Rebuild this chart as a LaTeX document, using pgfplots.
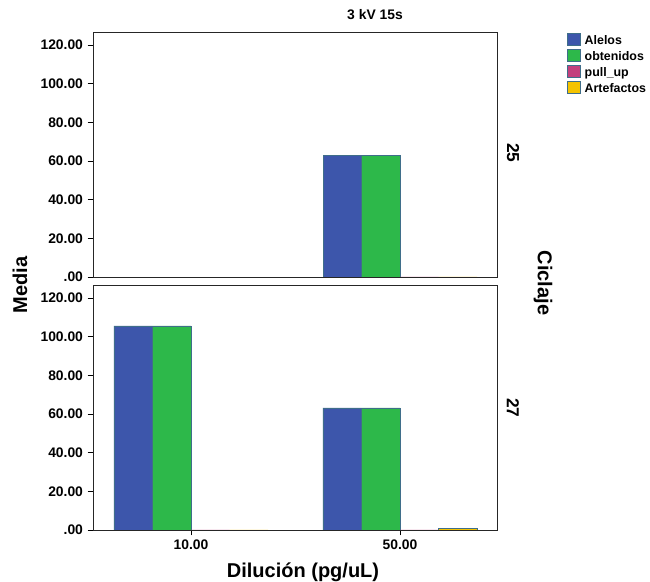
\documentclass[border=0pt]{standalone}
\usepackage{pgfplots}
\pgfplotsset{compat=1.18}
\usepackage{fontspec}
\setmainfont{Liberation Sans}
\definecolor{cblue}{HTML}{3D56AB}
\definecolor{cgreen}{HTML}{2DB84A}
\definecolor{cpink}{HTML}{C3407D}
\definecolor{cyellow}{HTML}{F4C300}
\definecolor{cedge}{HTML}{3F6E8A}

\pgfplotsset{
  panel/.style={
    scale only axis, width=303pt, height=183.75pt,
    anchor=south west,
    ybar=0pt, bar width=28.9pt,
    xmin=-0.469, xmax=1.464,
    ymin=0, ymax=126.7,
    ytick={0,20,...,120},
    yticklabels={.00,20.00,40.00,60.00,80.00,100.00,120.00},
    tick align=outside, major tick length=4pt,
    tick style={black, line width=0.65pt},
    axis line style={black!85, line width=0.65pt},
    ticklabel style={font=\bfseries\fontsize{10.4}{12}\selectfont},
    /pgf/number format/assume math mode=true,
    every axis plot/.append style={draw=cedge, line width=0.5pt},
  }
}

\begin{document}
\begin{tikzpicture}
% ciclaje 25
\begin{axis}[panel, at={(69.75pt,228.75pt)},
  xtick=\empty, ytick pos=left,
  legend style={at={(1.162,1.008)}, anchor=north west, draw=none, fill=none,
    font=\bfseries\fontsize{9.3}{10}\selectfont, row sep=0pt,
    nodes={inner sep=1pt, text height=7pt, text depth=2pt},
    /tikz/every odd column/.append style={column sep=2pt}},
  legend cell align=left,
  legend image code/.code={\draw[#1, draw=cedge, line width=0.5pt] (0pt,-2.9pt) rectangle (10pt,6.2pt);},
]
\addplot[fill=cblue] coordinates {(1,63.1)};
\addplot[fill=cgreen] coordinates {(1,63.1)};
\addplot[fill=cpink] coordinates {(1,0)};
\addplot[fill=cyellow] coordinates {(1,0)};
\legend{Alelos,obtenidos,pull\_up,Artefactos}
\end{axis}
% ciclaje 27
\begin{axis}[panel, at={(69.75pt,39pt)},
  xtick={0,1}, xticklabels={10.00,50.00},
  xtick pos=bottom, ytick pos=left,
]
\addplot[fill=cblue] coordinates {(0,105.5) (1,63.1)};
\addplot[fill=cgreen] coordinates {(0,105.5) (1,63.1)};
\addplot[fill=cpink] coordinates {(0,0) (1,0)};
\addplot[fill=cyellow] coordinates {(0,0) (1,1.0)};
\end{axis}
\node[font=\bfseries\fontsize{10.4}{12}\selectfont] at (281.25pt,425.25pt) {3 kV 15s};
\node[font=\bfseries\fontsize{13}{15}\selectfont, rotate=-90] at (384.75pt,321.75pt) {25};
\node[font=\bfseries\fontsize{13}{15}\selectfont, rotate=-90] at (384.75pt,130.5pt) {27};
\node[font=\bfseries\fontsize{15}{18}\selectfont, rotate=-90] at (407.25pt,224.25pt) {Ciclaje};
\node[font=\bfseries\fontsize{15}{18}\selectfont, rotate=90] at (15pt,222.75pt) {Media};
\node[font=\bfseries\fontsize{15}{18}\selectfont] at (227.25pt,7.5pt) {Dilución (pg/uL)};
\pgfresetboundingbox
\path[use as bounding box] (0,0) rectangle (487.5pt,436.5pt);
\end{tikzpicture}
\end{document}
